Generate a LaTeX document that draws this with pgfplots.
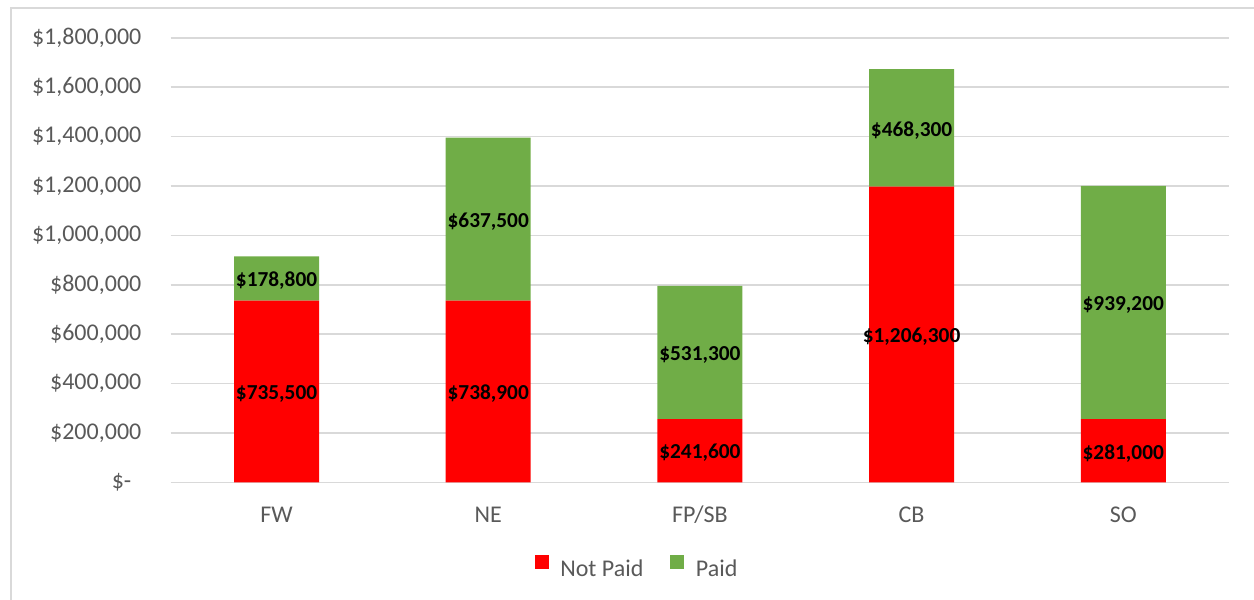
\documentclass[border=0pt]{standalone}
\usepackage{pgfplots}
\pgfplotsset{compat=1.18}
\usepackage{pgfplotstable}
\usepackage{fontspec}
\setmainfont{Carlito}
\definecolor{npred}{HTML}{FF0000}
\definecolor{pgreen}{HTML}{70AD47}
\definecolor{txtgray}{HTML}{595959}
\definecolor{gridgray}{HTML}{D9D9D9}
\definecolor{framegray}{HTML}{D9D9D9}

% x: category index, y: segment height as drawn, label: data label shown
\pgfplotstableread{
x y label
0 735500 735,500
1 736000 738,900
2 256000 241,600
3 1197000 1,206,300
4 256000 281,000
}\notpaid
\pgfplotstableread{
x y label
0 178800 178,800
1 659000 637,500
2 539000 531,300
3 476000 468,300
4 944000 939,200
}\paid

\begin{document}
\begin{tikzpicture}
\useasboundingbox (-85.35pt,-58.85pt) rectangle (541.65pt,241.15pt);
\draw[framegray, line width=1pt] (-79.85pt,-58.85pt) -- (-79.85pt,237.15pt) -- (541.65pt,237.15pt);
\begin{axis}[
  at={(0pt,0pt)}, anchor=south west,
  scale only axis,
  width=529.2pt, height=222.3pt,
  ybar stacked,
  bar width=42.5pt,
  xmin=-0.5, xmax=4.5,
  ymin=0, ymax=1800000,
  scaled y ticks=false,
  xtick={0,1,2,3,4},
  xticklabels={FW,NE,FP/SB,CB,SO},
  ytick={0,200000,400000,600000,800000,1000000,1200000,1400000,1600000,1800000},
  yticklabels={{\$-\hspace*{5pt}},{\$200,000},{\$400,000},{\$600,000},{\$800,000},{\$1,000,000},{\$1,200,000},{\$1,400,000},{\$1,600,000},{\$1,800,000}},
  ymajorgrids,
  major grid style={draw=gridgray, line width=0.8pt},
  axis line style={draw=none},
  major tick length=0pt,
  tick label style={font=\fontsize{12}{14}\selectfont, text=txtgray},
  yticklabel style={anchor=east, inner sep=0pt, xshift=-14.5pt},
  xticklabel style={anchor=base, inner sep=0pt, yshift=-20pt},
  point meta=explicit symbolic,
  nodes near coords={\$\pgfplotspointmeta},
  nodes near coords align={center},
  every node near coord/.append style={font=\fontsize{10.67}{12}\selectfont\bfseries, text=black, inner sep=0pt, anchor=center, yshift=-1.2pt},
  legend columns=2,
  legend style={at={(axis description cs:0.4397,-0.1905)}, anchor=center,
    draw=none, fill=none, inner sep=0pt,
    nodes={inner sep=0pt, font=\fontsize{12}{14}\selectfont, text=txtgray},
    /tikz/every odd column/.append style={column sep=5.8pt},
    /tikz/every even column/.append style={column sep=13.5pt}},
]
\addplot[fill=npred, draw=none, legend image code/.code={\fill[npred] (0pt,0.3pt) rectangle (7pt,7.3pt);}] table[x=x, y=y, meta=label] {\notpaid};
\addlegendentry{Not Paid}
\addplot[fill=pgreen, draw=none, legend image code/.code={\fill[pgreen] (0pt,0.3pt) rectangle (7pt,7.3pt);}] table[x=x, y=y, meta=label] {\paid};
\addlegendentry{Paid}
\end{axis}
\end{tikzpicture}
\end{document}
